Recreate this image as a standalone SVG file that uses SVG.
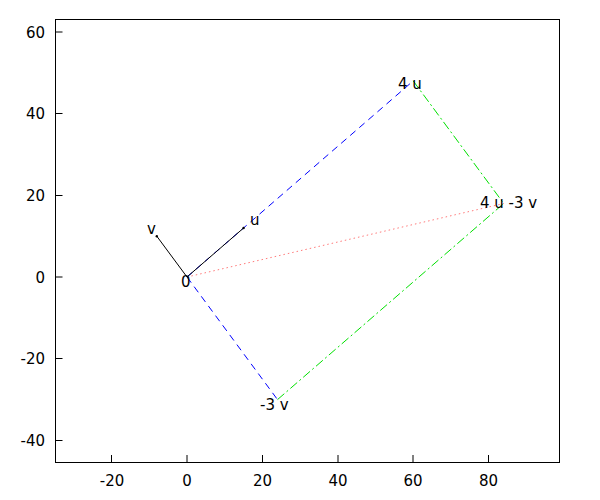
<svg xmlns="http://www.w3.org/2000/svg" width="600" height="500" viewBox="0 0 600 500">
<style>
text{font-family:"DejaVu Sans",sans-serif;font-size:15px;fill:#000}
.yl{text-anchor:end}
.xl{text-anchor:middle}
.tick{stroke:#000;stroke-width:1}
.vec{stroke:#000;stroke-width:1;fill:none}
.blue{stroke:#0000ff;stroke-width:1;stroke-dasharray:7,5;fill:none}
.green{stroke:#00e000;stroke-width:1;stroke-dasharray:9,3,2,3;fill:none}
.pink{stroke:#ff7a7a;stroke-width:1;stroke-dasharray:1.5,3;fill:none}
</style>
<rect width="600" height="500" fill="#fff"/>
<g id="axes">
<rect x="55.5" y="19.5" width="504" height="443" fill="none" stroke="#000" stroke-width="1"/>
<path class="tick" d="M55.5,32H62.5M55.5,113.5H62.5M55.5,195.5H62.5M55.5,277H62.5M55.5,358.5H62.5M55.5,440.5H62.5"/>
<path class="tick" d="M111.5,462V455M187,462V455M262.5,462V455M338,462V455M413,462V455M488.5,462V455"/>
<text class="yl" x="45" y="37.5">60</text>
<text class="yl" x="45" y="119">40</text>
<text class="yl" x="45" y="201">20</text>
<text class="yl" x="45" y="282.5">0</text>
<text class="yl" x="45" y="364">-20</text>
<text class="yl" x="45" y="446">-40</text>
<text class="xl" x="112" y="486">-20</text>
<text class="xl" x="187" y="486">0</text>
<text class="xl" x="262.5" y="486">20</text>
<text class="xl" x="338" y="486">40</text>
<text class="xl" x="413" y="486">60</text>
<text class="xl" x="488.5" y="486">80</text>
</g>
<g id="connectors">
<line class="pink" x1="187" y1="277" x2="503.7" y2="203.5"/>
<line class="blue" x1="187" y1="277" x2="413.2" y2="80.9"/>
<line class="blue" x1="187" y1="277" x2="277.5" y2="399.6"/>
<line class="green" x1="413.2" y1="80.9" x2="503.7" y2="203.5"/>
<line class="green" x1="277.5" y1="399.6" x2="503.7" y2="203.5"/>
<line class="vec" x1="187" y1="277" x2="243.6" y2="228"/>
<line class="vec" x1="187" y1="277" x2="156.8" y2="236.2"/>
</g>
<g id="node-origin"><text x="181" y="287">0</text></g>
<g id="node-u"><circle cx="243.6" cy="228" r="1.2" fill="#000"/><text x="250" y="225">u</text></g>
<g id="node-v"><circle cx="156.8" cy="236.2" r="1.2" fill="#000"/><text x="147" y="234">v</text></g>
<g id="node-4u"><text x="398" y="89">4 u</text></g>
<g id="node-m3v"><text x="260" y="410">-3 v</text></g>
<g id="node-4u-3v"><text x="480" y="208">4 u -3 v</text></g>
</svg>
